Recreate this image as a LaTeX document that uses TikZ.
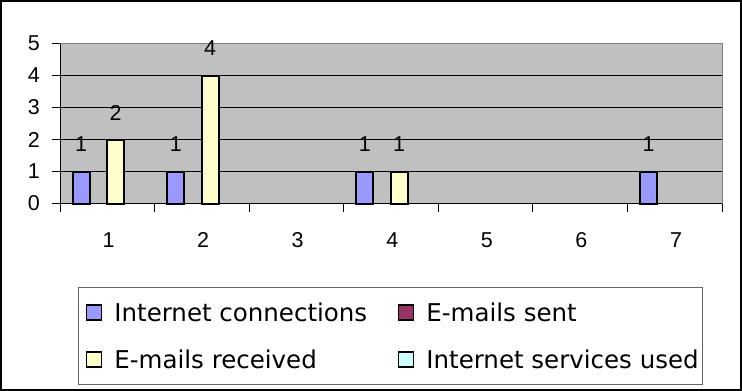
\documentclass[tikz,border=0pt]{standalone}
\usepackage{fontspec}
\setmainfont{Liberation Sans}
\newfontfamily\legendfamily{DejaVu Sans}
\usetikzlibrary{positioning}
\definecolor{plotgray}{HTML}{C0C0C0}
\definecolor{barblue}{HTML}{9999FF}
\definecolor{barpurple}{HTML}{993366}
\definecolor{baryellow}{HTML}{FFFFCC}
\definecolor{barcyan}{HTML}{CCFFFF}

\begin{document}
\begin{tikzpicture}[x=1pt,y=-1pt,inner sep=0pt,
		axisfont/.style={font=\fontsize{21.5}{25}\selectfont},
		legendfont/.style={font=\legendfamily\fontsize{24.5}{28}\selectfont},
		bar/.style={draw=black,line width=2pt},
		swatch/.style={draw=black,line width=1.4pt,minimum size=15pt}]
		\useasboundingbox (0,0) rectangle (742,391);
		\draw[line width=2pt] (1,1) rectangle (741,390);
		\fill[plotgray] (60,43.5) rectangle (722,203.5);
		\foreach \v in {1,...,4}
			\draw[line width=0.8pt] (60,203.5-32*\v) -- (722,203.5-32*\v);
		\draw[black!50,line width=0.8pt] (60,43.5) -- (722,43.5) -- (722,203.5);
		\draw[line width=0.8pt] (60,43.5) -- (60,203.5) -- (722,203.5);
		\foreach \v in {0,...,5}{
			\draw[line width=0.8pt] (52,203.5-32*\v) -- (60,203.5-32*\v);
			\node[axisfont,anchor=east] (ytick\v) at (40,203.5-32*\v) {\v};
		}
		\foreach \c in {0,...,7}
			\draw[line width=0.8pt] (60+94.57*\c,203.5) -- ++(0,8);
		\foreach \c in {1,...,7}
			\node[axisfont] (xtick\c) at (60+94.57*\c-46,240) {\c};
		\foreach \c/\s/\v/\col in {1/0/1/barblue,1/2/2/baryellow,2/0/1/barblue,2/2/4/baryellow,4/0/1/barblue,4/2/1/baryellow,7/0/1/barblue}{
			\draw[bar,fill=\col] (60+94.57*\c-94.57+12.7+17.15*\s,203.5) rectangle ++(17,-32*\v);
			\node[axisfont] (val\c-\s) at (60+94.57*\c-94.57+21.2+17.15*\s,203.5-32*\v-27) {\v};
		}
		\draw[black!60,line width=0.8pt] (78,287.5) rectangle (702,384);
		\node[swatch,fill=barblue] (keyconn) at (94,312.5) {};
		\node[legendfont,right=12pt of keyconn] (txtconn) {Internet connections};
		\node[swatch,fill=barpurple] (keysent) at (406,312.5) {};
		\node[legendfont,right=12pt of keysent] (txtsent) {E-mails sent};
		\node[swatch,fill=baryellow] (keyrecv) at (94,359.5) {};
		\node[legendfont,right=12pt of keyrecv] (txtrecv) {E-mails received};
		\node[swatch,fill=barcyan] (keyserv) at (406,359.5) {};
		\node[legendfont,right=12pt of keyserv] (txtserv) {Internet services used};
	\end{tikzpicture}
\end{document}
